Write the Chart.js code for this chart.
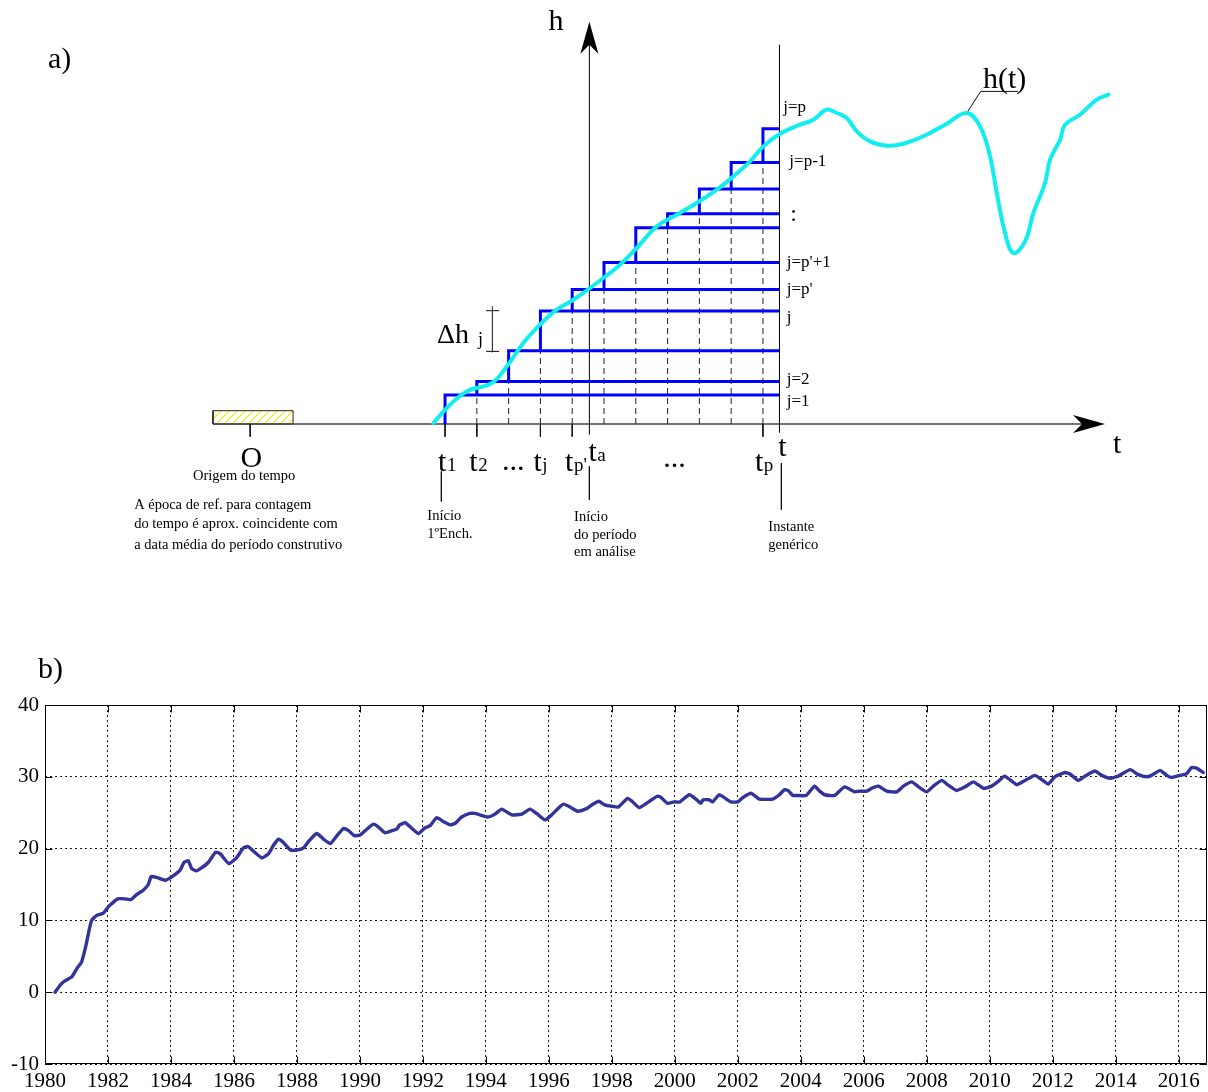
<!DOCTYPE html>
<html>
<head>
<meta charset="utf-8">
<script src="https://cdn.jsdelivr.net/npm/chart.js@4.4.1/dist/chart.umd.min.js"></script>
<style>
  html, body { margin: 0; padding: 0; background: #ffffff; }
  #wrap { position: relative; width: 1208px; height: 1092px; overflow: hidden; }
  canvas { position: absolute; left: 0; }
  #diagram { top: 0; }
  #series { top: 640px; }
</style>
</head>
<body>
<div id="wrap">
  <canvas id="diagram" width="1208" height="640"></canvas>
  <canvas id="series" width="1208" height="452"></canvas>
</div>
<script>
const SERIF = "'Liberation Serif', 'Times New Roman', serif";

/* ---------- a) filling scheme: time stages and water level ---------- */
const stepTimes  = [1, 2, 3, 4, 5, 6, 7, 8, 9, 10, 11];            // t1 ... tp
const stepLevels = [2.9, 4.26, 7.33, 11.3, 13.46, 16.16, 19.63, 21.03, 23.5, 26.16, 29.53];
const tNow    = 11.52;   // generic instant t
const tStart  = 5.54;    // start of the analysed period (h axis)
const tOrigin = -5.13;   // time origin O
const axisFrom = -6.3, axisTo = 21.76;
const labelledSteps = [0, 1, 3, 4, 10];                            // t1, t2, tj, tp', tp

const levelT = [0.632, 1.157, 1.683, 2.469, 2.941, 3.463, 3.988, 4.514, 5.036, 5.561, 5.98, 6.505,
  7.03, 7.659, 8.288, 8.917, 9.546, 10.069, 10.594, 11.013, 11.538, 12.167, 12.585, 13.007, 13.322,
  13.636, 13.951, 14.369, 14.894, 15.417, 16.153, 16.782, 17.411, 17.829, 18.144, 18.355, 18.616,
  18.877, 19.245, 19.506, 19.874, 20.031, 20.346, 20.503, 20.975, 21.5, 21.865];
const levelH = [0.1, 1.93, 3.26, 4.1, 5.76, 8.1, 9.93, 11.43, 12.43, 13.6, 14.6, 15.93,
  17.6, 19.76, 20.93, 22.1, 23.43, 24.76, 26.26, 27.76, 29.03, 29.93, 30.43, 31.43, 31.1,
  30.6, 29.26, 28.26, 27.83, 28.03, 28.93, 30.03, 31.1, 29.76, 26.76, 23.1, 19.1,
  17.1, 18.26, 21.1, 24.1, 26.43, 28.43, 29.93, 30.93, 32.43, 32.93];

const stageNames = ['j=p', 'j=p-1', ':', "j=p'+1", "j=p'", 'j', 'j=2', 'j=1'];
const stageNameY = [31.6, 26.26, 20.95, 16.17, 13.43, 10.6, 4.43, 2.26];
const stageNameX = [11.64, 11.83, 11.86, 11.75, 11.75, 11.75, 11.75, 11.75];

/* ---------- b) observed level series ---------- */
const obsYears = [1980.32, 1980.48, 1980.63, 1980.85, 1981.01, 1981.16, 1981.29, 1981.40, 1981.48, 1981.64,
  1981.85, 1981.96, 1982.06, 1982.31, 1982.54, 1982.73, 1982.91, 1983.12, 1983.28, 1983.37, 1983.54, 1983.83,
  1984.07, 1984.29, 1984.42, 1984.55, 1984.66, 1984.81, 1984.97, 1985.19, 1985.42, 1985.56, 1985.84, 1986.08,
  1986.30, 1986.45, 1986.68, 1986.89, 1987.10, 1987.26, 1987.42, 1987.58, 1987.79, 1988.00, 1988.21, 1988.37,
  1988.63, 1988.85, 1989.06, 1989.27, 1989.48, 1989.64, 1989.82, 1990.01, 1990.17, 1990.43, 1990.59, 1990.80,
  1991.02, 1991.17, 1991.26, 1991.44, 1991.63, 1991.86, 1992.07, 1992.23, 1992.44, 1992.66, 1992.87, 1993.05,
  1993.23, 1993.49, 1993.65, 1993.81, 1994.07, 1994.29, 1994.50, 1994.82, 1995.14, 1995.40, 1995.61, 1995.88,
  1996.09, 1996.25, 1996.46, 1996.67, 1996.92, 1997.21, 1997.37, 1997.58, 1997.77, 1998.00, 1998.21, 1998.50,
  1998.64, 1998.87, 1999.17, 1999.44, 1999.54, 1999.77, 1999.98, 2000.16, 2000.46, 2000.67, 2000.83, 2000.90,
  2001.09, 2001.20, 2001.41, 2001.57, 2001.78, 2002.00, 2002.16, 2002.42, 2002.69, 2003.11, 2003.32, 2003.48,
  2003.59, 2003.75, 2003.87, 2004.17, 2004.44, 2004.60, 2004.76, 2005.07, 2005.39, 2005.71, 2005.87, 2006.10,
  2006.25, 2006.47, 2006.73, 2007.05, 2007.26, 2007.52, 2007.74, 2008.00, 2008.21, 2008.48, 2008.69, 2008.95,
  2009.22, 2009.48, 2009.80, 2010.06, 2010.28, 2010.47, 2010.70, 2010.86, 2011.12, 2011.44, 2011.65, 2011.86,
  2012.07, 2012.39, 2012.55, 2012.81, 2013.03, 2013.34, 2013.56, 2013.82, 2014.08, 2014.46, 2014.72, 2014.98,
  2015.14, 2015.41, 2015.62, 2015.78, 2016.04, 2016.25, 2016.41, 2016.57, 2016.78];
const obsLevels = [0.0, 0.97, 1.58, 2.13, 3.29, 4.2, 6.3, 8.6, 10.0, 10.7,
  11.0, 11.6, 12.1, 13.0, 13.0, 12.9, 13.6, 14.2, 15.0, 16.1, 16.0, 15.6,
  16.2, 17.0, 18.1, 18.3, 17.2, 16.9, 17.3, 18.1, 19.5, 19.3, 17.9, 18.7,
  20.1, 20.3, 19.4, 18.7, 19.3, 20.5, 21.3, 20.8, 19.8, 19.8, 20.1, 21.0,
  22.1, 21.3, 20.7, 21.8, 22.8, 22.5, 21.8, 21.9, 22.5, 23.4, 23.0, 22.2,
  22.5, 22.7, 23.3, 23.6, 22.9, 22.1, 22.9, 23.2, 24.3, 23.75, 23.3, 23.6,
  24.4, 24.9, 24.9, 24.7, 24.4, 24.8, 25.5, 24.7, 24.8, 25.5, 24.9, 24.0,
  24.7, 25.4, 26.2, 25.8, 25.2, 25.6, 26.1, 26.6, 26.1, 25.9, 25.8, 27.0,
  26.6, 25.7, 26.5, 27.3, 27.2, 26.3, 26.5, 26.5, 27.5, 26.9, 26.3, 26.8,
  26.8, 26.5, 27.5, 27.1, 26.5, 26.5, 27.1, 27.7, 26.9, 26.9, 27.5, 28.2,
  28.1, 27.4, 27.4, 27.4, 28.7, 28.0, 27.5, 27.4, 28.6, 27.9, 28.0, 28.0,
  28.4, 28.7, 28.0, 27.9, 28.7, 29.3, 28.6, 27.9, 28.7, 29.5, 28.8, 28.1,
  28.6, 29.3, 28.4, 28.7, 29.4, 30.1, 29.4, 28.9, 29.5, 30.2, 29.6, 29.0,
  30.0, 30.6, 30.4, 29.5, 30.1, 30.8, 30.2, 29.8, 30.1, 31.0, 30.3, 30.0,
  30.2, 30.9, 30.2, 29.9, 30.2, 30.4, 31.3, 31.2, 30.6];
const yearTickStep = 2;
const levelTicks = { min: -10, max: 40, step: 10 };

/* ---------- helpers ---------- */
// join several polylines into one dataset, separated by gaps
function polylines(lines) {
  const out = [];
  lines.forEach((line, i) => {
    if (i > 0) out.push({ x: line[0].x, y: null });
    line.forEach(p => out.push(p));
  });
  return out;
}
const P = (x, y) => ({ x, y });

function hatchPattern(ctx) {
  const c = document.createElement('canvas');
  c.width = 8; c.height = 8;
  const g = c.getContext('2d');
  g.fillStyle = '#ffffff';
  g.fillRect(0, 0, 8, 8);
  g.strokeStyle = '#f2e600';
  g.lineWidth = 1.1;
  g.beginPath();
  g.moveTo(0, 8); g.lineTo(8, 0);
  g.moveTo(-2, 2); g.lineTo(2, -2);
  g.moveTo(6, 10); g.lineTo(10, 6);
  g.stroke();
  return ctx.createPattern(c, 'repeat');
}

/* ---------- a) datasets ---------- */
const stepLines = stepTimes.map((t, i) => [
  P(t, i === 0 ? 0 : stepLevels[i - 1]), P(t, stepLevels[i]), P(tNow, stepLevels[i])
]);
const dashedLines = stepTimes.slice(1).map((t, i) => [P(t, 0), P(t, stepLevels[i])]);
const tickLines = labelledSteps.map(i => [P(stepTimes[i], 0), P(stepTimes[i], -1.27)])
  .concat([[P(tOrigin, 0), P(tOrigin, -1.27)]]);
const connectorLines = [
  [P(0.884, -4.74), P(0.884, -7.74)],
  [P(tStart, -4.24), P(tStart, -7.57)],
  [P(11.58, -3.9), P(11.58, -8.57)]
];
const deltaMark = [
  [P(2.488, 7.16), P(2.488, 11.76)],
  [P(2.29, 11.33), P(2.70, 11.33)],
  [P(2.29, 7.26), P(2.70, 7.26)]
];
const leader = [P(17.411, 31.1), P(17.85, 33.26), P(19.02, 33.26)];

const diagramLabels = [
  { x: -11.49, y: 35.63, text: 'a)', size: 30 },
  { x: 4.49, y: 40.2, text: 'h', size: 30, align: 'center', base: 'middle' },
  { x: 22.14, y: -2.1, text: 't', size: 30, align: 'center', base: 'middle' },
  { x: -5.09, y: -4.32, text: 'O', size: 30, align: 'center' },
  { x: -5.32, y: -5.17, text: 'Origem do tempo', size: 14.5, align: 'center', base: 'middle' },
  { x: -8.78, y: -8.07, text: 'A época de ref. para contagem', size: 14.5, base: 'middle' },
  { x: -8.78, y: -9.97, text: 'do tempo é aprox. coincidente com', size: 14.5, base: 'middle' },
  { x: -8.78, y: -12.07, text: 'a data média do período construtivo', size: 14.5, base: 'middle' },
  { x: 0.78, y: -4.74, text: 't', sub: '1', size: 30 },
  { x: 1.765, y: -4.74, text: 't', sub: '2', size: 30 },
  { x: 2.79, y: -4.6, text: '...', size: 30 },
  { x: 3.78, y: -4.74, text: 't', sub: 'j', size: 30 },
  { x: 4.775, y: -4.74, text: 't', sub: "p'", size: 30 },
  { x: 5.51, y: -3.74, text: 't', sub: 'a', size: 30 },
  { x: 7.86, y: -4.3, text: '...', size: 30 },
  { x: 10.75, y: -4.74, text: 't', sub: 'p', size: 30 },
  { x: 11.48, y: -3.24, text: 't', size: 30 },
  { x: 0.443, y: -9.24, text: 'Início', size: 14.5, base: 'middle' },
  { x: 0.443, y: -10.97, text: '1ºEnch.', size: 14.5, base: 'middle' },
  { x: 5.058, y: -9.27, text: 'Início', size: 14.5, base: 'middle' },
  { x: 5.058, y: -11.07, text: 'do período', size: 14.5, base: 'middle' },
  { x: 5.058, y: -12.77, text: 'em análise', size: 14.5, base: 'middle' },
  { x: 11.17, y: -10.27, text: 'Instante', size: 14.5, base: 'middle' },
  { x: 11.17, y: -12.07, text: 'genérico', size: 14.5, base: 'middle' },
  { x: 0.748, y: 8.1, text: 'Δh', size: 28 },
  { x: 2.04, y: 7.93, text: 'j', size: 18 },
  { x: 17.92, y: 33.6, text: 'h(t)', size: 30 }
];
stageNames.forEach((s, i) => diagramLabels.push({
  x: stageNameX[i], y: stageNameY[i], text: s, size: s === ':' ? 24 : 17, base: 'middle'
}));

const arrowHeads = [
  { x: tStart, y: 40.23, dir: 'up' },
  { x: axisTo, y: 0, dir: 'right' }
];

const diagramDecor = {
  id: 'diagramDecor',
  afterDatasetsDraw(chart) {
    const { ctx, scales: { x, y } } = chart;
    ctx.save();
    // arrowheads
    ctx.fillStyle = '#000';
    arrowHeads.forEach(a => {
      const px = x.getPixelForValue(a.x), py = y.getPixelForValue(a.y);
      const len = 32, half = 9, notch = 9;
      ctx.beginPath();
      if (a.dir === 'up') {
        ctx.moveTo(px, py);
        ctx.lineTo(px - half, py + len);
        ctx.lineTo(px, py + len - notch);
        ctx.lineTo(px + half, py + len);
      } else {
        ctx.moveTo(px, py);
        ctx.lineTo(px - len, py - half);
        ctx.lineTo(px - len + notch, py);
        ctx.lineTo(px - len, py + half);
      }
      ctx.closePath();
      ctx.fill();
    });
    // text
    ctx.fillStyle = '#000';
    diagramLabels.forEach(l => {
      const px = x.getPixelForValue(l.x), py = y.getPixelForValue(l.y);
      ctx.font = `${l.size}px ${SERIF}`;
      ctx.textAlign = l.align || 'left';
      ctx.textBaseline = l.base || 'alphabetic';
      ctx.fillText(l.text, px, py);
      if (l.sub) {
        const w = ctx.measureText(l.text).width;
        ctx.font = `19px ${SERIF}`;
        ctx.textAlign = 'left';
        ctx.fillText(l.sub, px + w + 0.5, py);
      }
    });
    ctx.restore();
  }
};

const lineDs = (data, color, width, extra) => Object.assign({
  data, showLine: true, borderColor: color, borderWidth: width,
  pointRadius: 0, fill: false, tension: 0, spanGaps: false
}, extra || {});

const dctx = document.getElementById('diagram').getContext('2d');

new Chart(dctx, {
  type: 'scatter',
  data: {
    datasets: [
      lineDs(levelT.map((t, i) => P(t, levelH[i])), '#12eef0', 4,
        { tension: 0.4, borderCapStyle: 'round', borderJoinStyle: 'round' }),
      lineDs(polylines(stepLines), '#0000ff', 3, { borderJoinStyle: 'miter' }),
      lineDs(polylines(dashedLines), '#222', 1, { borderDash: [6, 4] }),
      lineDs(leader, '#111', 1),
      lineDs(polylines(deltaMark), '#111', 1),
      lineDs(polylines(tickLines), '#111', 1),
      lineDs(polylines(connectorLines), '#111', 1),
      lineDs([P(tStart, -1.07), P(tStart, 39)], '#000', 1),
      lineDs([P(tNow, -0.87), P(tNow, 37.93)], '#000', 1),
      lineDs([P(axisFrom, 0), P(axisTo - 0.6, 0)], '#444', 1.3),
      lineDs([P(-6.3, 0), P(-3.78, 0), P(-3.78, 1.33), P(-6.3, 1.33), P(-6.3, 0)], '#222', 1,
        { fill: 'shape', backgroundColor: hatchPattern(dctx) })
    ]
  },
  options: {
    responsive: false,
    animation: false,
    events: [],
    layout: { padding: 0 },
    plugins: { legend: { display: false }, tooltip: { enabled: false } },
    scales: {
      x: { type: 'linear', min: -13, max: 25, display: false },
      y: { type: 'linear', min: -21.6, max: 42.4, display: false }
    }
  },
  plugins: [diagramDecor]
});

/* ---------- b) chart ---------- */
const seriesFrame = {
  id: 'seriesFrame',
  afterDraw(chart) {
    const { ctx, chartArea: a, scales: { x, y } } = chart;
    ctx.save();
    ctx.strokeStyle = '#000';
    ctx.lineWidth = 1;
    const L = Math.round(a.left) + 0.5, R = Math.round(a.right) - 0.5;
    const T = Math.round(a.top) + 0.5, B = Math.round(a.bottom) - 0.5;
    ctx.beginPath();
    ctx.rect(L, T, R - L, B - T);
    // inward tick marks on all four sides
    const tl = 7;
    x.ticks.forEach(t => {
      const px = Math.round(x.getPixelForValue(t.value)) + 0.5;
      ctx.moveTo(px, B); ctx.lineTo(px, B - tl);
      ctx.moveTo(px, T); ctx.lineTo(px, T + tl);
    });
    y.ticks.forEach(t => {
      const py = Math.round(y.getPixelForValue(t.value)) + 0.5;
      ctx.moveTo(L, py); ctx.lineTo(L + tl, py);
      ctx.moveTo(R, py); ctx.lineTo(R - tl, py);
    });
    ctx.stroke();
    ctx.fillStyle = '#000';
    ctx.font = `30px ${SERIF}`;
    ctx.textAlign = 'left';
    ctx.textBaseline = 'alphabetic';
    ctx.fillText('b)', a.left - 7, a.top - 27);
    ctx.restore();
  }
};

new Chart(document.getElementById('series').getContext('2d'), {
  type: 'line',
  data: {
    datasets: [{
      data: obsYears.map((t, i) => ({ x: t, y: obsLevels[i] })),
      borderColor: '#33339c',
      borderWidth: 3.4,
      pointRadius: 0,
      tension: 0.15,
      fill: false,
      borderJoinStyle: 'round',
      borderCapStyle: 'round'
    }]
  },
  options: {
    responsive: false,
    animation: false,
    events: [],
    layout: { padding: { top: 65, right: 1, left: 0, bottom: 0 } },
    plugins: { legend: { display: false }, tooltip: { enabled: false } },
    scales: {
      x: {
        type: 'linear', min: 1980, max: 2016.9,
        afterFit: s => { s.height = 28; },
        grid: { color: 'rgba(0,0,0,0.9)', lineWidth: 1, drawTicks: false },
        border: { display: false, dash: [2, 3] },
        ticks: {
          stepSize: yearTickStep, includeBounds: false, autoSkip: false, maxRotation: 0,
          padding: 5, color: '#000', font: { family: SERIF, size: 21 },
          callback: v => String(Math.round(v))
        }
      },
      y: {
        type: 'linear', min: levelTicks.min, max: levelTicks.max,
        afterFit: s => { s.width = 45; },
        grid: { color: 'rgba(0,0,0,0.9)', lineWidth: 1, drawTicks: false },
        border: { display: false, dash: [2, 3] },
        ticks: {
          stepSize: levelTicks.step, padding: 6, color: '#000',
          font: { family: SERIF, size: 21 },
          callback: v => String(v)
        }
      }
    }
  },
  plugins: [seriesFrame]
});
</script>
</body>
</html>
